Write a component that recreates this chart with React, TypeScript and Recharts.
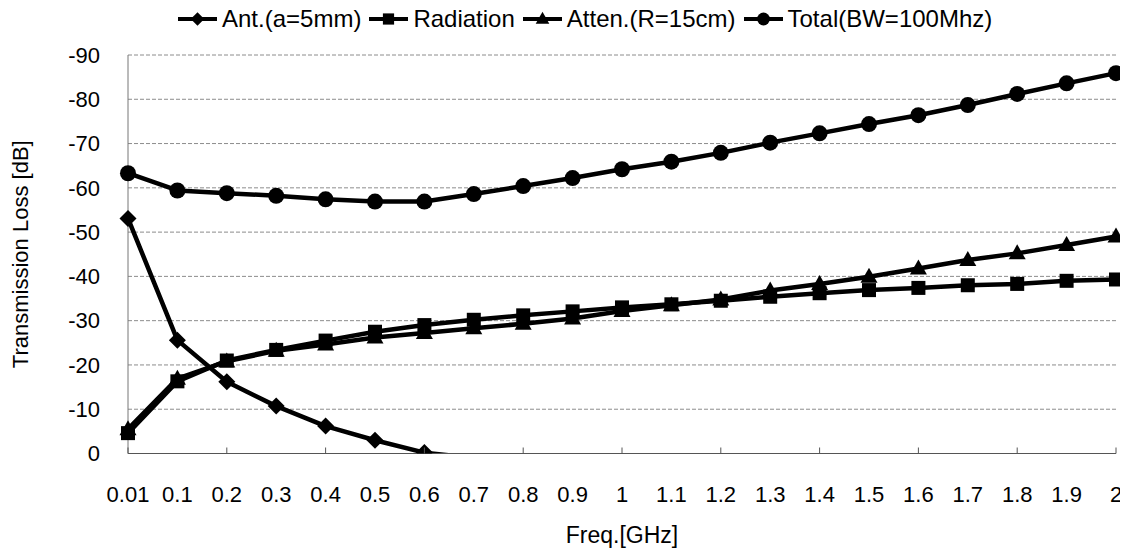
import { LineChart, Line, XAxis, YAxis, CartesianGrid, Legend } from 'recharts';

// x categories (GHz)
const freqLabels = [
  '0.01', '0.1', '0.2', '0.3', '0.4', '0.5', '0.6', '0.7', '0.8', '0.9', '1',
  '1.1', '1.2', '1.3', '1.4', '1.5', '1.6', '1.7', '1.8', '1.9', '2',
];

// transmission loss [dB]
const antLoss = [
  -53.1, -25.6, -16.2, -10.7, -6.2, -3.0, -0.2, 1.0, null, null, null,
  null, null, null, null, null, null, null, null, null, null,
];
const radiationLoss = [
  -4.6, -16.3, -21.0, -23.4, -25.5, -27.5, -29.0, -30.2, -31.2, -32.1, -33.0,
  -33.7, -34.5, -35.4, -36.2, -36.9, -37.4, -38.0, -38.3, -39.0, -39.3,
];
const attenLoss = [
  -5.5, -16.9, -20.8, -23.2, -24.6, -26.2, -27.2, -28.3, -29.3, -30.5, -32.2,
  -33.5, -34.8, -36.8, -38.3, -39.9, -41.8, -43.7, -45.2, -47.1, -49.0,
];
const totalLoss = [
  -63.3, -59.4, -58.8, -58.2, -57.4, -56.9, -56.9, -58.6, -60.4, -62.2, -64.2,
  -65.9, -67.9, -70.2, -72.3, -74.4, -76.4, -78.7, -81.2, -83.6, -85.9,
];

const yTicks = [0, -10, -20, -30, -40, -50, -60, -70, -80, -90];

const data = freqLabels.map((freq, i) => ({
  freq,
  ant: antLoss[i],
  radiation: radiationLoss[i],
  atten: attenLoss[i],
  total: totalLoss[i],
}));

type Shape = 'diamond' | 'square' | 'triangle' | 'circle';

const SERIES: { key: string; name: string; shape: Shape }[] = [
  { key: 'ant', name: 'Ant.(a=5mm)', shape: 'diamond' },
  { key: 'radiation', name: 'Radiation', shape: 'square' },
  { key: 'atten', name: 'Atten.(R=15cm)', shape: 'triangle' },
  { key: 'total', name: 'Total(BW=100Mhz)', shape: 'circle' },
];

const INK = '#000';
const FONT = '"Liberation Sans", Arial, Helvetica, sans-serif';

function Marker({ shape, cx, cy, k = 1 }: { shape: Shape; cx: number; cy: number; k?: number }) {
  if (shape === 'diamond') {
    const s = 8.5 * k;
    return <polygon points={`${cx},${cy - s} ${cx + s},${cy} ${cx},${cy + s} ${cx - s},${cy}`} fill={INK} />;
  }
  if (shape === 'square') {
    const s = 7 * k;
    return <rect x={cx - s} y={cy - s} width={2 * s} height={2 * s} fill={INK} />;
  }
  if (shape === 'triangle') {
    return (
      <polygon
        points={`${cx},${cy - 9 * k} ${cx + 8.5 * k},${cy + 6 * k} ${cx - 8.5 * k},${cy + 6 * k}`}
        fill={INK}
      />
    );
  }
  return <circle cx={cx} cy={cy} r={8 * k} fill={INK} />;
}

// hide markers that fall below the 0 dB floor (plot area clips the line)
const makeDot = (shape: Shape) => (props: any) => {
  const { cx, cy, value, index } = props;
  if (value == null || value > 0 || cx == null || cy == null) {
    return <g key={`${shape}-${index}`} />;
  }
  return <Marker key={`${shape}-${index}`} shape={shape} cx={cx} cy={cy} />;
};

function FreqTick(props: any) {
  const { x, y, payload, index } = props;
  const i = payload?.index ?? index;
  return (
    <g>
      {i % 2 === 0 && <line x1={x} x2={x} y1={y} y2={y - 6} stroke="#555" />}
      <text x={x} y={y + 41} dy="0.355em" textAnchor="middle" fontSize={22} fill={INK}>
        {payload.value}
      </text>
    </g>
  );
}

function LegendContent() {
  return (
    <div style={{ display: 'flex', alignItems: 'center', height: 26 }}>
      {SERIES.map((s) => (
        <div key={s.key} style={{ display: 'flex', alignItems: 'center', marginRight: 8 }}>
          <svg width={39} height={20}>
            <line x1={0} x2={39} y1={10} y2={10} stroke={INK} strokeWidth={4} />
            <Marker shape={s.shape} cx={19.5} cy={10} k={0.8} />
          </svg>
          <span style={{ marginLeft: 5, fontSize: 24, color: INK, whiteSpace: 'nowrap' }}>{s.name}</span>
        </div>
      ))}
    </div>
  );
}

export default function App() {
  return (
    <div style={{ fontFamily: FONT, width: 1120, height: 548 }}>
      <LineChart
        width={1120}
        height={548}
        data={data}
        margin={{ top: 47, right: 12, bottom: 32.5, left: 0 }}
        style={{ fontFamily: FONT }}
      >
        <CartesianGrid vertical={false} stroke="#8c8c8c" strokeDasharray="4 2" />
        <XAxis
          dataKey="freq"
          interval={0}
          tickSize={0}
          tickMargin={0}
          tickLine={false}
          tick={<FreqTick />}
          axisLine={{ stroke: '#555' }}
          height={70}
          label={{ value: 'Freq.[GHz]', position: 'bottom', offset: 3, fontSize: 23, fill: INK }}
        />
        <YAxis
          type="number"
          domain={[-90, 0]}
          ticks={yTicks}
          reversed
          allowDataOverflow
          width={120}
          tickSize={0}
          tickMargin={28}
          tickLine={false}
          axisLine={{ stroke: '#777' }}
          tick={{ fontSize: 22, fill: INK }}
          label={{
            value: 'Transmission Loss [dB]',
            angle: -90,
            position: 'insideLeft',
            offset: 12,
            fontSize: 22,
            fill: INK,
            style: { textAnchor: 'middle' },
          }}
        />
        <Legend
          verticalAlign="middle"
          align="center"
          layout="horizontal"
          wrapperStyle={{ top: -2, left: 170, width: 950 }}
          content={<LegendContent />}
        />
        {SERIES.map((s) => (
          <Line
            key={s.key}
            type="linear"
            dataKey={s.key}
            name={s.name}
            stroke={INK}
            strokeWidth={4.5}
            strokeLinejoin="round"
            dot={makeDot(s.shape)}
            activeDot={false}
            isAnimationActive={false}
          />
        ))}
      </LineChart>
    </div>
  );
}
